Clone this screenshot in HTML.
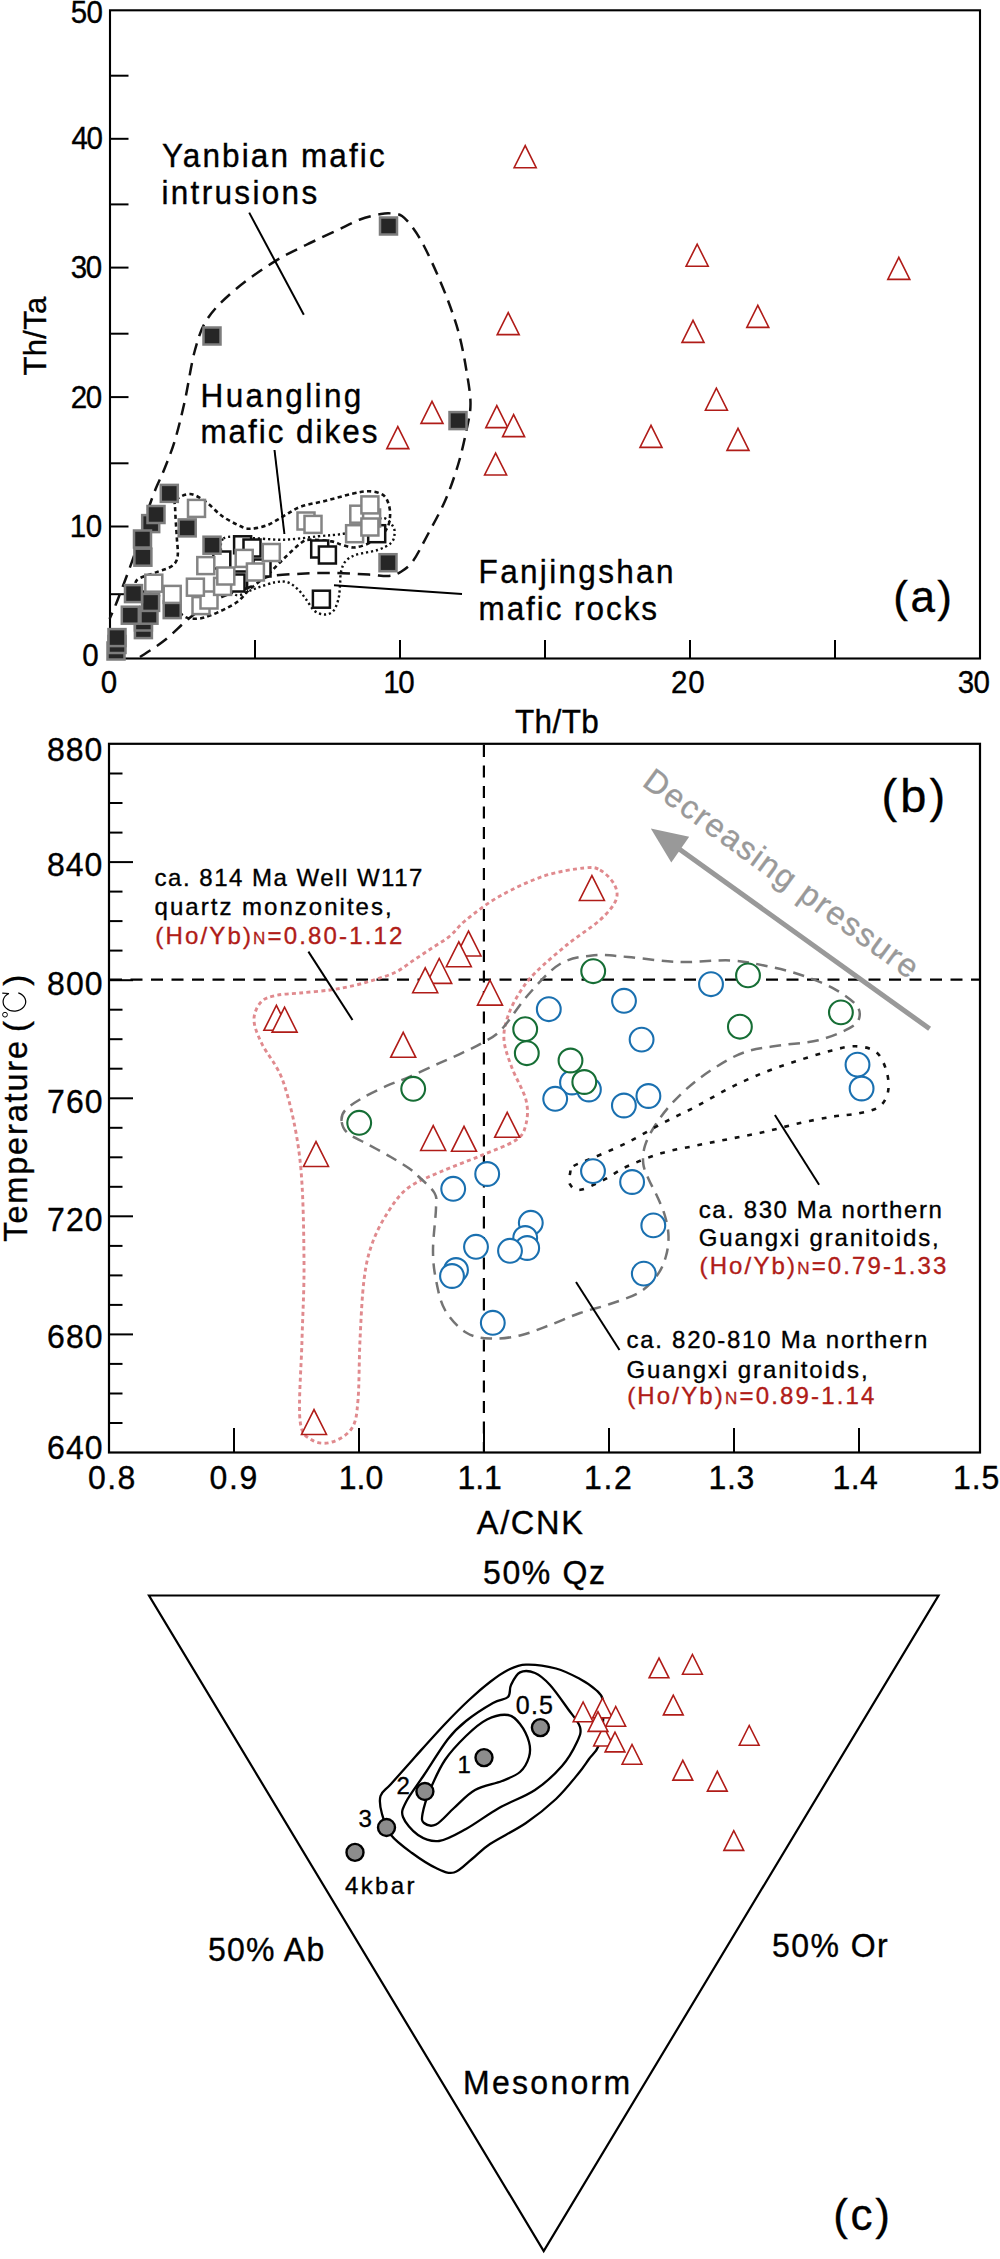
<!DOCTYPE html>
<html><head><meta charset="utf-8">
<style>
html,body{margin:0;padding:0;background:#fff;width:1000px;height:2259px;overflow:hidden}
svg{display:block}
text{font-family:"Liberation Sans", sans-serif;stroke-width:0.35px;paint-order:stroke}
</style></head><body>
<svg width="1000" height="2259" viewBox="0 0 1000 2259">
<rect width="1000" height="2259" fill="#fff"/>
<rect x="110" y="10.3" width="870" height="648.2" fill="none" stroke="#000" stroke-width="2.1"/>
<line x1="110" y1="75.7" x2="128.5" y2="75.7" stroke="#000" stroke-width="2"/>
<line x1="110" y1="138.8" x2="128.5" y2="138.8" stroke="#000" stroke-width="2"/>
<line x1="110" y1="204.4" x2="128.5" y2="204.4" stroke="#000" stroke-width="2"/>
<line x1="110" y1="267.6" x2="128.5" y2="267.6" stroke="#000" stroke-width="2"/>
<line x1="110" y1="333.7" x2="128.5" y2="333.7" stroke="#000" stroke-width="2"/>
<line x1="110" y1="397.1" x2="128.5" y2="397.1" stroke="#000" stroke-width="2"/>
<line x1="110" y1="463.3" x2="128.5" y2="463.3" stroke="#000" stroke-width="2"/>
<line x1="110" y1="526.5" x2="128.5" y2="526.5" stroke="#000" stroke-width="2"/>
<line x1="110" y1="594.2" x2="128.5" y2="594.2" stroke="#000" stroke-width="2"/>
<line x1="255.0" y1="658.5" x2="255.0" y2="640" stroke="#000" stroke-width="2"/>
<line x1="400.0" y1="658.5" x2="400.0" y2="640" stroke="#000" stroke-width="2"/>
<line x1="545.0" y1="658.5" x2="545.0" y2="640" stroke="#000" stroke-width="2"/>
<line x1="690.0" y1="658.5" x2="690.0" y2="640" stroke="#000" stroke-width="2"/>
<line x1="835.0" y1="658.5" x2="835.0" y2="640" stroke="#000" stroke-width="2"/>
<path d="M140.0,657.0 C144.2,654.2 156.3,646.8 165.0,640.0 C173.7,633.2 182.5,623.2 192.0,616.0 C201.5,608.8 212.3,601.8 222.0,597.0 C231.7,592.2 242.5,590.3 250.0,587.0 C257.5,583.7 258.5,579.2 267.0,577.0 C275.5,574.8 289.7,574.4 301.0,573.7 C312.3,573.0 323.7,572.8 335.0,572.9 C346.3,573.0 360.0,574.1 369.0,574.6 C378.0,575.1 383.7,576.5 389.0,576.0 C394.3,575.5 397.0,574.2 401.0,571.7 C405.0,569.2 408.7,567.0 413.0,561.0 C417.3,555.0 421.7,546.0 427.0,536.0 C432.3,526.0 439.8,512.8 445.0,501.0 C450.2,489.2 454.4,476.8 458.0,465.0 C461.6,453.2 464.4,440.3 466.5,430.0 C468.6,419.7 470.6,413.3 470.5,403.0 C470.4,392.7 467.9,379.5 466.0,368.0 C464.1,356.5 461.7,344.3 459.0,334.0 C456.3,323.7 453.5,315.7 450.0,306.0 C446.5,296.3 442.3,286.0 438.0,276.0 C433.7,266.0 428.2,254.0 424.0,246.0 C419.8,238.0 416.7,233.0 413.0,228.0 C409.3,223.0 405.5,218.4 402.0,216.0 C398.5,213.6 395.5,213.8 392.0,213.5 C388.5,213.2 386.3,213.0 381.0,214.0 C375.7,215.0 367.5,216.7 360.0,219.5 C352.5,222.3 345.0,226.6 336.0,230.8 C327.0,235.1 316.3,239.9 306.0,245.0 C295.7,250.1 286.1,254.3 274.4,261.6 C262.7,268.9 247.1,279.6 236.0,289.0 C224.9,298.4 214.8,307.8 208.0,318.0 C201.2,328.2 198.8,336.3 195.0,350.0 C191.2,363.7 188.3,385.0 185.0,400.0 C181.7,415.0 178.5,428.3 175.0,440.0 C171.5,451.7 167.2,462.0 164.0,470.0 C160.8,478.0 158.7,481.3 156.0,488.0 C153.3,494.7 150.4,502.5 148.0,510.0 C145.6,517.5 144.3,524.2 141.6,532.8 C138.9,541.4 136.0,550.4 132.0,561.6 C128.0,572.8 121.3,590.4 117.6,600.0 C113.9,609.6 110.9,615.8 109.6,619.0" fill="none" stroke="#111" stroke-width="2.5" stroke-dasharray="12.5 7.7"/>
<path d="M176.0,500.0 C178.5,497.3 185.0,493.7 190.0,494.0 C195.0,494.3 200.7,498.3 206.0,502.0 C211.3,505.7 216.3,512.0 222.0,516.0 C227.7,520.0 235.3,523.9 240.0,526.0 C244.7,528.1 245.5,528.8 250.0,528.7 C254.5,528.6 261.3,527.4 267.0,525.3 C272.7,523.2 278.3,519.0 284.0,515.9 C289.7,512.8 293.9,509.2 301.0,506.6 C308.1,504.1 318.0,502.7 326.5,500.6 C335.0,498.5 344.9,495.4 352.0,493.8 C359.1,492.2 363.9,491.2 369.0,491.3 C374.1,491.4 379.3,492.6 382.6,494.7 C385.9,496.8 387.4,500.3 388.6,504.0 C389.8,507.7 390.4,512.7 390.0,517.0 C389.6,521.3 388.9,525.9 386.0,530.0 C383.1,534.1 377.5,538.5 372.4,541.4 C367.3,544.3 360.5,546.8 355.4,547.4 C350.3,548.0 345.8,545.8 341.8,544.8 C337.8,543.8 337.0,542.2 331.6,541.4 C326.2,540.5 314.6,539.4 309.5,539.7 C304.4,540.0 305.2,539.9 301.0,543.0 C296.8,546.1 289.7,553.0 284.0,558.4 C278.3,563.8 272.7,570.3 267.0,575.4 C261.3,580.5 255.2,584.4 250.0,589.0 C244.8,593.6 242.3,598.5 236.0,602.8 C229.7,607.1 218.7,612.1 212.0,614.8 C205.3,617.5 200.8,618.7 196.0,618.8 C191.2,618.9 187.7,618.7 183.0,615.6 C178.3,612.5 175.2,604.3 168.0,600.0 C160.8,595.7 145.2,593.3 140.0,590.0 C134.8,586.7 134.3,582.9 137.0,580.0 C139.7,577.1 150.2,574.7 156.0,572.4 C161.8,570.1 168.4,568.7 172.0,566.0 C175.6,563.3 176.8,561.2 177.6,556.4 C178.4,551.6 177.2,544.9 176.8,537.2 C176.4,529.5 175.3,516.2 175.2,510.0 C175.1,503.8 173.5,502.7 176.0,500.0Z" fill="none" stroke="#111" stroke-width="2.6" stroke-dasharray="4.2 3.3"/>
<path d="M223.4,538.5 C228.1,534.8 239.9,537.8 250.0,538.0 C260.1,538.2 272.7,540.0 284.0,539.7 C295.3,539.4 308.1,537.3 318.0,536.3 C327.9,535.3 335.7,535.1 343.5,533.8 C351.3,532.4 358.5,530.6 365.0,528.0 C371.5,525.4 378.0,518.3 382.6,518.0 C387.2,517.7 390.8,523.2 392.8,526.0 C394.8,528.8 394.8,531.8 394.5,534.6 C394.2,537.4 393.8,540.4 391.0,543.0 C388.2,545.6 383.4,548.0 377.5,550.0 C371.6,552.0 360.8,553.0 355.4,555.0 C350.0,557.0 347.6,559.0 345.2,561.8 C342.8,564.6 341.9,568.0 341.0,572.0 C340.1,576.0 340.4,581.1 340.0,585.6 C339.6,590.1 339.5,595.0 338.4,599.2 C337.3,603.4 335.6,608.5 333.3,611.0 C331.0,613.5 327.9,614.5 324.8,614.5 C321.7,614.5 317.7,613.5 314.6,611.0 C311.5,608.5 308.8,602.9 306.0,599.2 C303.2,595.5 300.7,591.8 297.6,589.0 C294.5,586.2 291.1,583.3 287.4,582.2 C283.7,581.1 280.3,581.4 275.5,582.2 C270.7,583.1 262.8,585.9 258.5,587.3 C254.2,588.7 253.8,589.4 250.0,590.7 C246.2,592.0 240.2,596.8 236.0,595.0 C231.8,593.2 227.3,585.8 225.0,580.0 C222.7,574.2 222.3,566.9 222.0,560.0 C221.7,553.1 218.7,542.2 223.4,538.5Z" fill="none" stroke="#111" stroke-width="2.4" stroke-dasharray="2.2 2.8"/>
<line x1="249.2" y1="212.6" x2="303.8" y2="314.8" stroke="#000" stroke-width="2"/>
<line x1="274.5" y1="450" x2="284.4" y2="534" stroke="#000" stroke-width="2"/>
<line x1="334" y1="585.3" x2="462" y2="594" stroke="#000" stroke-width="2"/>
<rect x="380.0" y="217.5" width="17.0" height="17.0" fill="#262626" stroke="#7d7d7d" stroke-width="2.5"/>
<rect x="203.5" y="327.5" width="17.0" height="17.0" fill="#262626" stroke="#7d7d7d" stroke-width="2.5"/>
<rect x="449.5" y="412.1" width="17.0" height="17.0" fill="#262626" stroke="#7d7d7d" stroke-width="2.5"/>
<rect x="379.5" y="554.2" width="17.0" height="17.0" fill="#262626" stroke="#7d7d7d" stroke-width="2.5"/>
<rect x="160.8" y="484.9" width="17.0" height="17.0" fill="#262626" stroke="#7d7d7d" stroke-width="2.5"/>
<rect x="142.2" y="515.1" width="17.0" height="17.0" fill="#262626" stroke="#7d7d7d" stroke-width="2.5"/>
<rect x="147.5" y="506.0" width="17.0" height="17.0" fill="#262626" stroke="#7d7d7d" stroke-width="2.5"/>
<rect x="134.0" y="530.5" width="17.0" height="17.0" fill="#262626" stroke="#7d7d7d" stroke-width="2.5"/>
<rect x="134.4" y="548.7" width="17.0" height="17.0" fill="#262626" stroke="#7d7d7d" stroke-width="2.5"/>
<rect x="178.7" y="519.4" width="17.0" height="17.0" fill="#262626" stroke="#7d7d7d" stroke-width="2.5"/>
<rect x="134.9" y="621.1" width="17.0" height="17.0" fill="#262626" stroke="#7d7d7d" stroke-width="2.5"/>
<rect x="134.9" y="613.5" width="17.0" height="17.0" fill="#262626" stroke="#7d7d7d" stroke-width="2.5"/>
<rect x="140.5" y="606.7" width="17.0" height="17.0" fill="#262626" stroke="#7d7d7d" stroke-width="2.5"/>
<rect x="142.1" y="593.9" width="17.0" height="17.0" fill="#262626" stroke="#7d7d7d" stroke-width="2.5"/>
<rect x="125.0" y="585.1" width="17.0" height="17.0" fill="#262626" stroke="#7d7d7d" stroke-width="2.5"/>
<rect x="121.8" y="606.7" width="17.0" height="17.0" fill="#262626" stroke="#7d7d7d" stroke-width="2.5"/>
<rect x="163.7" y="601.1" width="17.0" height="17.0" fill="#262626" stroke="#7d7d7d" stroke-width="2.5"/>
<rect x="107.5" y="642.5" width="17.0" height="17.0" fill="#262626" stroke="#7d7d7d" stroke-width="2.5"/>
<rect x="108.5" y="636.0" width="17.0" height="17.0" fill="#262626" stroke="#7d7d7d" stroke-width="2.5"/>
<rect x="108.5" y="629.1" width="17.0" height="17.0" fill="#262626" stroke="#7d7d7d" stroke-width="2.5"/>
<rect x="188.0" y="499.9" width="17.0" height="17.0" fill="#fff" stroke="#848484" stroke-width="2.5"/>
<rect x="145.3" y="574.7" width="17.0" height="17.0" fill="#fff" stroke="#848484" stroke-width="2.5"/>
<rect x="163.7" y="585.9" width="17.0" height="17.0" fill="#fff" stroke="#848484" stroke-width="2.5"/>
<rect x="234.1" y="536.3" width="17.0" height="17.0" fill="#fff" stroke="#111" stroke-width="2.5"/>
<rect x="243.5" y="539.5" width="17.0" height="17.0" fill="#fff" stroke="#111" stroke-width="2.5"/>
<rect x="213.3" y="551.5" width="17.0" height="17.0" fill="#fff" stroke="#111" stroke-width="2.5"/>
<rect x="230.1" y="571.5" width="17.0" height="17.0" fill="#fff" stroke="#111" stroke-width="2.5"/>
<rect x="253.5" y="559.5" width="17.0" height="17.0" fill="#fff" stroke="#111" stroke-width="2.5"/>
<rect x="227.5" y="574.5" width="17.0" height="17.0" fill="#fff" stroke="#111" stroke-width="2.5"/>
<rect x="311.2" y="540.5" width="17.0" height="17.0" fill="#fff" stroke="#111" stroke-width="2.5"/>
<rect x="318.9" y="546.5" width="17.0" height="17.0" fill="#fff" stroke="#111" stroke-width="2.5"/>
<rect x="368.2" y="525.2" width="17.0" height="17.0" fill="#fff" stroke="#111" stroke-width="2.5"/>
<rect x="312.9" y="590.7" width="17.0" height="17.0" fill="#fff" stroke="#111" stroke-width="2.5"/>
<rect x="203.5" y="536.7" width="17.0" height="17.0" fill="#262626" stroke="#7d7d7d" stroke-width="2.5"/>
<rect x="192.5" y="597.1" width="17.0" height="17.0" fill="#fff" stroke="#848484" stroke-width="2.5"/>
<rect x="200.5" y="591.5" width="17.0" height="17.0" fill="#fff" stroke="#848484" stroke-width="2.5"/>
<rect x="186.9" y="578.7" width="17.0" height="17.0" fill="#fff" stroke="#848484" stroke-width="2.5"/>
<rect x="197.3" y="557.1" width="17.0" height="17.0" fill="#fff" stroke="#848484" stroke-width="2.5"/>
<rect x="214.1" y="577.9" width="17.0" height="17.0" fill="#fff" stroke="#848484" stroke-width="2.5"/>
<rect x="217.3" y="567.5" width="17.0" height="17.0" fill="#fff" stroke="#848484" stroke-width="2.5"/>
<rect x="235.7" y="549.9" width="17.0" height="17.0" fill="#fff" stroke="#848484" stroke-width="2.5"/>
<rect x="246.9" y="563.5" width="17.0" height="17.0" fill="#fff" stroke="#848484" stroke-width="2.5"/>
<rect x="262.8" y="544.0" width="17.0" height="17.0" fill="#fff" stroke="#848484" stroke-width="2.5"/>
<rect x="297.5" y="512.5" width="17.0" height="17.0" fill="#fff" stroke="#848484" stroke-width="2.5"/>
<rect x="304.5" y="515.9" width="17.0" height="17.0" fill="#fff" stroke="#848484" stroke-width="2.5"/>
<rect x="350.3" y="505.7" width="17.0" height="17.0" fill="#fff" stroke="#848484" stroke-width="2.5"/>
<rect x="346.1" y="525.2" width="17.0" height="17.0" fill="#fff" stroke="#848484" stroke-width="2.5"/>
<rect x="363.1" y="509.5" width="17.0" height="17.0" fill="#fff" stroke="#848484" stroke-width="2.5"/>
<rect x="361.4" y="518.5" width="17.0" height="17.0" fill="#fff" stroke="#848484" stroke-width="2.5"/>
<rect x="361.4" y="496.4" width="17.0" height="17.0" fill="#fff" stroke="#848484" stroke-width="2.5"/>
<path d="M525.2,145.6 L514.1,167.7 L536.2,167.7 Z" fill="#fff" stroke="#b01c18" stroke-width="1.6" stroke-linejoin="miter"/>
<path d="M697.2,244.2 L686.1,266.2 L708.2,266.2 Z" fill="#fff" stroke="#b01c18" stroke-width="1.6" stroke-linejoin="miter"/>
<path d="M898.8,257.4 L887.8,279.4 L909.8,279.4 Z" fill="#fff" stroke="#b01c18" stroke-width="1.6" stroke-linejoin="miter"/>
<path d="M508.2,312.6 L497.2,334.6 L519.2,334.6 Z" fill="#fff" stroke="#b01c18" stroke-width="1.6" stroke-linejoin="miter"/>
<path d="M693.0,320.4 L682.0,342.4 L704.0,342.4 Z" fill="#fff" stroke="#b01c18" stroke-width="1.6" stroke-linejoin="miter"/>
<path d="M757.8,305.4 L746.8,327.4 L768.8,327.4 Z" fill="#fff" stroke="#b01c18" stroke-width="1.6" stroke-linejoin="miter"/>
<path d="M716.4,388.2 L705.4,410.2 L727.4,410.2 Z" fill="#fff" stroke="#b01c18" stroke-width="1.6" stroke-linejoin="miter"/>
<path d="M651.0,425.4 L640.0,447.4 L662.0,447.4 Z" fill="#fff" stroke="#b01c18" stroke-width="1.6" stroke-linejoin="miter"/>
<path d="M738.0,428.4 L727.0,450.4 L749.0,450.4 Z" fill="#fff" stroke="#b01c18" stroke-width="1.6" stroke-linejoin="miter"/>
<path d="M432.0,401.4 L421.0,423.4 L443.0,423.4 Z" fill="#fff" stroke="#b01c18" stroke-width="1.6" stroke-linejoin="miter"/>
<path d="M397.8,426.6 L386.8,448.6 L408.8,448.6 Z" fill="#fff" stroke="#b01c18" stroke-width="1.6" stroke-linejoin="miter"/>
<path d="M496.8,405.6 L485.8,427.6 L507.8,427.6 Z" fill="#fff" stroke="#b01c18" stroke-width="1.6" stroke-linejoin="miter"/>
<path d="M513.6,414.6 L502.6,436.6 L524.6,436.6 Z" fill="#fff" stroke="#b01c18" stroke-width="1.6" stroke-linejoin="miter"/>
<path d="M495.6,453.1 L484.6,475.0 L506.6,475.0 Z" fill="#fff" stroke="#b01c18" stroke-width="1.6" stroke-linejoin="miter"/>
<rect x="109" y="743.8" width="871" height="708.7" fill="none" stroke="#000" stroke-width="2.2"/>
<line x1="109" y1="1423.0" x2="122.5" y2="1423.0" stroke="#000" stroke-width="2"/>
<line x1="109" y1="1393.5" x2="122.5" y2="1393.5" stroke="#000" stroke-width="2"/>
<line x1="109" y1="1363.9" x2="122.5" y2="1363.9" stroke="#000" stroke-width="2"/>
<line x1="109" y1="1334.4" x2="133.0" y2="1334.4" stroke="#000" stroke-width="2"/>
<line x1="109" y1="1304.9" x2="122.5" y2="1304.9" stroke="#000" stroke-width="2"/>
<line x1="109" y1="1275.4" x2="122.5" y2="1275.4" stroke="#000" stroke-width="2"/>
<line x1="109" y1="1245.9" x2="122.5" y2="1245.9" stroke="#000" stroke-width="2"/>
<line x1="109" y1="1216.3" x2="133.0" y2="1216.3" stroke="#000" stroke-width="2"/>
<line x1="109" y1="1186.8" x2="122.5" y2="1186.8" stroke="#000" stroke-width="2"/>
<line x1="109" y1="1157.3" x2="122.5" y2="1157.3" stroke="#000" stroke-width="2"/>
<line x1="109" y1="1127.8" x2="122.5" y2="1127.8" stroke="#000" stroke-width="2"/>
<line x1="109" y1="1098.3" x2="133.0" y2="1098.3" stroke="#000" stroke-width="2"/>
<line x1="109" y1="1068.7" x2="122.5" y2="1068.7" stroke="#000" stroke-width="2"/>
<line x1="109" y1="1039.2" x2="122.5" y2="1039.2" stroke="#000" stroke-width="2"/>
<line x1="109" y1="1009.7" x2="122.5" y2="1009.7" stroke="#000" stroke-width="2"/>
<line x1="109" y1="980.2" x2="133.0" y2="980.2" stroke="#000" stroke-width="2"/>
<line x1="109" y1="950.6" x2="122.5" y2="950.6" stroke="#000" stroke-width="2"/>
<line x1="109" y1="921.1" x2="122.5" y2="921.1" stroke="#000" stroke-width="2"/>
<line x1="109" y1="891.6" x2="122.5" y2="891.6" stroke="#000" stroke-width="2"/>
<line x1="109" y1="862.1" x2="133.0" y2="862.1" stroke="#000" stroke-width="2"/>
<line x1="109" y1="832.6" x2="122.5" y2="832.6" stroke="#000" stroke-width="2"/>
<line x1="109" y1="803.0" x2="122.5" y2="803.0" stroke="#000" stroke-width="2"/>
<line x1="109" y1="773.5" x2="122.5" y2="773.5" stroke="#000" stroke-width="2"/>
<line x1="234.0" y1="1452.5" x2="234.0" y2="1428" stroke="#000" stroke-width="2"/>
<line x1="359.0" y1="1452.5" x2="359.0" y2="1428" stroke="#000" stroke-width="2"/>
<line x1="484.0" y1="1452.5" x2="484.0" y2="1428" stroke="#000" stroke-width="2"/>
<line x1="609.0" y1="1452.5" x2="609.0" y2="1428" stroke="#000" stroke-width="2"/>
<line x1="734.0" y1="1452.5" x2="734.0" y2="1428" stroke="#000" stroke-width="2"/>
<line x1="859.0" y1="1452.5" x2="859.0" y2="1428" stroke="#000" stroke-width="2"/>
<line x1="110" y1="979.6" x2="979" y2="979.6" stroke="#000" stroke-width="2.2" stroke-dasharray="12 8.5"/>
<line x1="483.9" y1="745" x2="483.9" y2="1451.5" stroke="#000" stroke-width="2.2" stroke-dasharray="12 8.5"/>
<path d="M600.0,870.0 C605.0,872.7 611.3,879.0 614.0,884.0 C616.7,889.0 618.3,894.0 616.0,900.0 C613.7,906.0 608.0,912.7 600.0,920.0 C592.0,927.3 578.7,935.3 568.0,944.0 C557.3,952.7 544.0,964.0 536.0,972.0 C528.0,980.0 524.7,984.7 520.0,992.0 C515.3,999.3 510.7,1008.0 508.0,1016.0 C505.3,1024.0 503.3,1031.3 504.0,1040.0 C504.7,1048.7 508.3,1058.0 512.0,1068.0 C515.7,1078.0 523.7,1090.7 526.0,1100.0 C528.3,1109.3 527.7,1117.3 526.0,1124.0 C524.3,1130.7 523.7,1134.7 516.0,1140.0 C508.3,1145.3 492.7,1150.7 480.0,1156.0 C467.3,1161.3 452.0,1166.7 440.0,1172.0 C428.0,1177.3 416.7,1181.3 408.0,1188.0 C399.3,1194.7 394.0,1202.7 388.0,1212.0 C382.0,1221.3 376.0,1232.7 372.0,1244.0 C368.0,1255.3 366.0,1264.0 364.0,1280.0 C362.0,1296.0 361.0,1320.0 360.0,1340.0 C359.0,1360.0 359.3,1385.3 358.0,1400.0 C356.7,1414.7 356.3,1421.0 352.0,1428.0 C347.7,1435.0 338.7,1440.0 332.0,1442.0 C325.3,1444.0 317.3,1443.7 312.0,1440.0 C306.7,1436.3 301.7,1436.7 300.0,1420.0 C298.3,1403.3 301.3,1366.7 302.0,1340.0 C302.7,1313.3 304.3,1290.0 304.0,1260.0 C303.7,1230.0 303.3,1189.3 300.0,1160.0 C296.7,1130.7 290.3,1103.3 284.0,1084.0 C277.7,1064.7 267.0,1054.7 262.0,1044.0 C257.0,1033.3 254.2,1027.0 254.0,1020.0 C253.8,1013.0 257.3,1006.1 261.0,1002.0 C264.7,997.9 269.5,996.9 276.0,995.4 C282.5,993.9 291.0,993.9 300.0,993.0 C309.0,992.1 321.0,991.2 330.0,990.0 C339.0,988.8 346.5,987.2 354.0,985.5 C361.5,983.8 368.0,981.8 375.0,979.5 C382.0,977.2 389.5,975.2 396.0,972.0 C402.5,968.8 408.0,964.0 414.0,960.0 C420.0,956.0 426.0,952.0 432.0,948.0 C438.0,944.0 444.3,940.7 450.0,936.0 C455.7,931.3 457.7,926.7 466.0,920.0 C474.3,913.3 487.0,903.3 500.0,896.0 C513.0,888.7 530.0,880.7 544.0,876.0 C558.0,871.3 574.7,869.0 584.0,868.0 C593.3,867.0 595.0,867.3 600.0,870.0Z" fill="none" stroke="#e08a8e" stroke-width="2.9" stroke-dasharray="4 3.3"/>
<path d="M341.6,1121.0 C341.2,1117.2 341.8,1114.0 345.2,1110.2 C348.6,1106.4 355.2,1102.2 362.0,1098.2 C368.8,1094.2 378.0,1089.8 386.0,1086.2 C394.0,1082.6 401.2,1080.4 410.0,1076.6 C418.8,1072.8 430.0,1067.4 438.8,1063.4 C447.6,1059.4 455.6,1056.0 462.8,1052.6 C470.0,1049.2 475.6,1046.8 482.0,1043.0 C488.4,1039.2 493.5,1037.8 501.2,1029.8 C508.9,1021.8 518.2,1006.0 528.0,995.0 C537.8,984.0 549.0,970.6 560.0,964.0 C571.0,957.4 582.7,956.5 594.0,955.3 C605.3,954.1 613.8,955.9 628.0,957.0 C642.2,958.1 662.0,961.4 679.0,962.0 C696.0,962.6 715.8,959.8 730.0,960.4 C744.2,961.0 752.7,963.2 764.0,965.5 C775.3,967.8 786.7,970.3 798.0,974.0 C809.3,977.7 822.4,982.5 832.0,987.6 C841.6,992.7 851.3,999.5 855.8,1004.6 C860.3,1009.7 860.3,1014.2 859.2,1018.2 C858.1,1022.2 855.8,1024.7 849.0,1028.4 C842.2,1032.1 829.7,1037.4 818.4,1040.2 C807.1,1043.0 792.3,1043.6 781.0,1045.3 C769.7,1047.0 759.5,1047.9 750.4,1050.4 C741.3,1053.0 735.7,1055.5 726.6,1060.6 C717.5,1065.7 705.1,1073.9 696.0,1081.0 C686.9,1088.1 679.0,1095.7 672.2,1103.1 C665.4,1110.5 659.7,1118.1 655.2,1125.2 C650.7,1132.3 647.0,1139.1 645.0,1145.6 C643.0,1152.1 642.6,1158.3 643.3,1164.0 C644.0,1169.7 646.7,1174.7 649.0,1180.0 C651.3,1185.3 654.3,1190.0 657.0,1196.0 C659.7,1202.0 663.1,1209.3 665.0,1216.0 C666.9,1222.7 668.3,1229.3 668.5,1236.0 C668.7,1242.7 667.8,1249.7 666.0,1256.0 C664.2,1262.3 662.3,1268.0 658.0,1274.0 C653.7,1280.0 648.0,1287.0 640.0,1292.0 C632.0,1297.0 620.0,1300.5 610.0,1304.0 C600.0,1307.5 590.0,1309.5 580.0,1313.0 C570.0,1316.5 560.0,1321.2 550.0,1325.0 C540.0,1328.8 530.0,1333.2 520.0,1335.5 C510.0,1337.8 499.0,1339.0 490.0,1338.5 C481.0,1338.0 473.5,1337.2 466.0,1332.5 C458.5,1327.8 450.0,1318.8 445.0,1310.0 C440.0,1301.2 438.0,1290.0 436.0,1280.0 C434.0,1270.0 433.0,1262.0 433.0,1250.0 C433.0,1238.0 435.8,1217.5 436.0,1208.0 C436.2,1198.5 437.5,1198.3 434.5,1193.0 C431.5,1187.7 422.1,1180.0 418.0,1176.0 C413.9,1172.0 414.5,1172.2 410.0,1169.0 C405.5,1165.8 397.6,1161.0 390.8,1157.0 C384.0,1153.0 376.4,1149.0 369.2,1145.0 C362.0,1141.0 352.2,1137.0 347.6,1133.0 C343.0,1129.0 342.0,1124.8 341.6,1121.0Z" fill="none" stroke="#747474" stroke-width="2.5" stroke-dasharray="11.5 7.5"/>
<path d="M573.6,1166.0 C577.6,1163.5 584.9,1161.5 594.0,1157.5 C603.1,1153.5 616.7,1147.9 628.0,1142.2 C639.3,1136.5 650.7,1129.5 662.0,1123.5 C673.3,1117.5 684.7,1112.5 696.0,1106.5 C707.3,1100.5 718.7,1093.5 730.0,1087.8 C741.3,1082.1 752.7,1077.0 764.0,1072.5 C775.3,1068.0 786.7,1064.3 798.0,1060.6 C809.3,1056.9 822.4,1052.8 832.0,1050.4 C841.6,1048.0 848.4,1046.0 855.8,1046.3 C863.2,1046.6 871.1,1048.0 876.2,1052.1 C881.3,1056.2 884.4,1064.3 886.4,1070.8 C888.4,1077.3 889.2,1085.2 888.1,1091.2 C887.0,1097.2 884.4,1102.8 879.6,1106.5 C874.8,1110.2 867.1,1111.6 859.2,1113.3 C851.3,1115.0 842.2,1115.0 832.0,1116.7 C821.8,1118.4 809.3,1121.0 798.0,1123.5 C786.7,1126.0 775.3,1129.5 764.0,1132.0 C752.7,1134.5 741.3,1136.5 730.0,1138.8 C718.7,1141.1 707.3,1143.2 696.0,1145.6 C684.7,1148.0 673.3,1149.6 662.0,1153.0 C650.7,1156.4 637.6,1161.6 628.0,1166.0 C618.4,1170.4 612.1,1175.6 604.2,1179.6 C596.3,1183.6 586.1,1188.9 580.4,1189.8 C574.7,1190.7 571.9,1187.5 570.2,1184.7 C568.5,1181.9 569.6,1175.9 570.2,1172.8 C570.8,1169.7 569.6,1168.5 573.6,1166.0Z" fill="none" stroke="#111" stroke-width="2.6" stroke-dasharray="4.8 7.9"/>
<line x1="308.4" y1="951.6" x2="352.5" y2="1020" stroke="#000" stroke-width="2"/>
<line x1="774.9" y1="1115" x2="819.1" y2="1184.7" stroke="#000" stroke-width="2"/>
<line x1="576" y1="1282" x2="619.5" y2="1350" stroke="#000" stroke-width="2"/>
<line x1="929.6" y1="1028.8" x2="675" y2="846" stroke="#999" stroke-width="5"/>
<path d="M650.8,828.5 L689.2,836.8 L671.3,862.4 Z" fill="#999"/>
<path d="M591.9,875.6 L579.4,900.5 L604.4,900.5 Z" fill="#fff" stroke="#b01c18" stroke-width="1.6" stroke-linejoin="miter"/>
<path d="M468.5,931.1 L456.0,956.0 L481.0,956.0 Z" fill="#fff" stroke="#b01c18" stroke-width="1.6" stroke-linejoin="miter"/>
<path d="M458.8,941.8 L446.3,966.7 L471.3,966.7 Z" fill="#fff" stroke="#b01c18" stroke-width="1.6" stroke-linejoin="miter"/>
<path d="M439.2,958.5 L426.7,983.4 L451.7,983.4 Z" fill="#fff" stroke="#b01c18" stroke-width="1.6" stroke-linejoin="miter"/>
<path d="M425.2,967.8 L412.7,992.7 L437.7,992.7 Z" fill="#fff" stroke="#b01c18" stroke-width="1.6" stroke-linejoin="miter"/>
<path d="M490.0,980.2 L477.5,1005.1 L502.5,1005.1 Z" fill="#fff" stroke="#b01c18" stroke-width="1.6" stroke-linejoin="miter"/>
<path d="M276.4,1005.4 L263.9,1030.3 L288.9,1030.3 Z" fill="#fff" stroke="#b01c18" stroke-width="1.6" stroke-linejoin="miter"/>
<path d="M284.6,1007.2 L272.1,1032.1 L297.1,1032.1 Z" fill="#fff" stroke="#b01c18" stroke-width="1.6" stroke-linejoin="miter"/>
<path d="M403.2,1032.4 L390.7,1057.3 L415.7,1057.3 Z" fill="#fff" stroke="#b01c18" stroke-width="1.6" stroke-linejoin="miter"/>
<path d="M316.0,1141.6 L303.5,1166.5 L328.5,1166.5 Z" fill="#fff" stroke="#b01c18" stroke-width="1.6" stroke-linejoin="miter"/>
<path d="M433.2,1125.6 L420.7,1150.5 L445.7,1150.5 Z" fill="#fff" stroke="#b01c18" stroke-width="1.6" stroke-linejoin="miter"/>
<path d="M464.0,1126.4 L451.5,1151.3 L476.5,1151.3 Z" fill="#fff" stroke="#b01c18" stroke-width="1.6" stroke-linejoin="miter"/>
<path d="M507.2,1112.4 L494.7,1137.3 L519.7,1137.3 Z" fill="#fff" stroke="#b01c18" stroke-width="1.6" stroke-linejoin="miter"/>
<path d="M314.0,1409.6 L301.5,1434.5 L326.5,1434.5 Z" fill="#fff" stroke="#b01c18" stroke-width="1.6" stroke-linejoin="miter"/>
<circle cx="711.0" cy="984.2" r="11.9" fill="#fff" stroke="#1a70b0" stroke-width="2.1"/>
<circle cx="548.8" cy="1009.2" r="11.9" fill="#fff" stroke="#1a70b0" stroke-width="2.1"/>
<circle cx="624.0" cy="1000.8" r="11.9" fill="#fff" stroke="#1a70b0" stroke-width="2.1"/>
<circle cx="641.6" cy="1039.6" r="11.9" fill="#fff" stroke="#1a70b0" stroke-width="2.1"/>
<circle cx="572.0" cy="1082.5" r="11.9" fill="#fff" stroke="#1a70b0" stroke-width="2.1"/>
<circle cx="588.9" cy="1089.5" r="11.9" fill="#fff" stroke="#1a70b0" stroke-width="2.1"/>
<circle cx="555.2" cy="1098.8" r="11.9" fill="#fff" stroke="#1a70b0" stroke-width="2.1"/>
<circle cx="623.9" cy="1105.5" r="11.9" fill="#fff" stroke="#1a70b0" stroke-width="2.1"/>
<circle cx="648.4" cy="1096.0" r="11.9" fill="#fff" stroke="#1a70b0" stroke-width="2.1"/>
<circle cx="857.5" cy="1064.7" r="11.9" fill="#fff" stroke="#1a70b0" stroke-width="2.1"/>
<circle cx="861.6" cy="1088.5" r="11.9" fill="#fff" stroke="#1a70b0" stroke-width="2.1"/>
<circle cx="593.0" cy="1171.1" r="11.9" fill="#fff" stroke="#1a70b0" stroke-width="2.1"/>
<circle cx="632.1" cy="1182.0" r="11.9" fill="#fff" stroke="#1a70b0" stroke-width="2.1"/>
<circle cx="487.2" cy="1174.0" r="11.9" fill="#fff" stroke="#1a70b0" stroke-width="2.1"/>
<circle cx="453.2" cy="1188.8" r="11.9" fill="#fff" stroke="#1a70b0" stroke-width="2.1"/>
<circle cx="530.8" cy="1222.8" r="11.9" fill="#fff" stroke="#1a70b0" stroke-width="2.1"/>
<circle cx="525.2" cy="1238.0" r="11.9" fill="#fff" stroke="#1a70b0" stroke-width="2.1"/>
<circle cx="527.2" cy="1248.0" r="11.9" fill="#fff" stroke="#1a70b0" stroke-width="2.1"/>
<circle cx="510.0" cy="1250.8" r="11.9" fill="#fff" stroke="#1a70b0" stroke-width="2.1"/>
<circle cx="476.0" cy="1246.8" r="11.9" fill="#fff" stroke="#1a70b0" stroke-width="2.1"/>
<circle cx="456.0" cy="1270.0" r="11.9" fill="#fff" stroke="#1a70b0" stroke-width="2.1"/>
<circle cx="452.0" cy="1276.0" r="11.9" fill="#fff" stroke="#1a70b0" stroke-width="2.1"/>
<circle cx="492.8" cy="1322.8" r="11.9" fill="#fff" stroke="#1a70b0" stroke-width="2.1"/>
<circle cx="653.3" cy="1225.4" r="11.9" fill="#fff" stroke="#1a70b0" stroke-width="2.1"/>
<circle cx="643.8" cy="1273.6" r="11.9" fill="#fff" stroke="#1a70b0" stroke-width="2.1"/>
<circle cx="593.2" cy="971.2" r="11.9" fill="#fff" stroke="#166e35" stroke-width="2.1"/>
<circle cx="748.0" cy="975.4" r="11.9" fill="#fff" stroke="#166e35" stroke-width="2.1"/>
<circle cx="840.9" cy="1012.4" r="11.9" fill="#fff" stroke="#166e35" stroke-width="2.1"/>
<circle cx="739.9" cy="1026.7" r="11.9" fill="#fff" stroke="#166e35" stroke-width="2.1"/>
<circle cx="525.2" cy="1029.2" r="11.9" fill="#fff" stroke="#166e35" stroke-width="2.1"/>
<circle cx="526.8" cy="1053.2" r="11.9" fill="#fff" stroke="#166e35" stroke-width="2.1"/>
<circle cx="570.5" cy="1060.5" r="11.9" fill="#fff" stroke="#166e35" stroke-width="2.1"/>
<circle cx="584.3" cy="1082.0" r="11.9" fill="#fff" stroke="#166e35" stroke-width="2.1"/>
<circle cx="413.2" cy="1088.8" r="11.9" fill="#fff" stroke="#166e35" stroke-width="2.1"/>
<circle cx="359.2" cy="1122.8" r="11.9" fill="#fff" stroke="#166e35" stroke-width="2.1"/>
<path d="M2.3,993.2 L8.9,993.5 A11.3,9.4 0 1,0 18.3,992.9" fill="none" stroke="#000" stroke-width="1.2"/>
<circle cx="5.0" cy="1014.7" r="2.4" fill="none" stroke="#000" stroke-width="1"/>
<path d="M149,1595.5 L938.5,1595.5 L543.7,2251 Z" fill="none" stroke="#000" stroke-width="2.2" stroke-linejoin="miter"/>
<path d="M526.0,1664.6 C534.0,1664.3 547.0,1666.1 556.0,1668.5 C565.0,1670.9 573.3,1675.4 580.0,1679.0 C586.7,1682.6 592.2,1686.5 596.0,1690.0 C599.8,1693.5 601.8,1694.7 603.0,1700.0 C604.2,1705.3 603.8,1714.3 603.0,1722.0 C602.2,1729.7 600.8,1739.8 598.5,1746.0 C596.2,1752.2 592.4,1754.3 589.0,1759.0 C585.6,1763.7 583.5,1767.3 578.0,1774.0 C572.5,1780.7 564.7,1790.8 556.0,1799.0 C547.3,1807.2 537.0,1815.5 526.0,1823.0 C515.0,1830.5 499.0,1838.0 490.0,1844.0 C481.0,1850.0 478.0,1854.2 472.0,1859.0 C466.0,1863.8 460.0,1871.0 454.0,1872.5 C448.0,1874.0 443.0,1871.2 436.0,1868.0 C429.0,1864.8 419.5,1858.5 412.0,1853.0 C404.5,1847.5 396.0,1841.5 391.0,1835.0 C386.0,1828.5 383.8,1820.5 382.0,1814.0 C380.2,1807.5 379.0,1801.0 380.5,1796.0 C382.0,1791.0 385.2,1790.5 391.0,1784.0 C396.8,1777.5 406.0,1767.0 415.0,1757.0 C424.0,1747.0 436.0,1733.5 445.0,1724.0 C454.0,1714.5 461.5,1707.0 469.0,1700.0 C476.5,1693.0 483.5,1687.0 490.0,1682.0 C496.5,1677.0 502.0,1672.9 508.0,1670.0 C514.0,1667.1 518.0,1664.8 526.0,1664.6Z" fill="none" stroke="#000" stroke-width="2.3"/>
<path d="M520.0,1672.4 C524.0,1670.4 530.0,1670.9 535.0,1673.0 C540.0,1675.1 544.5,1679.0 550.0,1685.0 C555.5,1691.0 563.0,1702.0 568.0,1709.0 C573.0,1716.0 578.5,1721.5 580.0,1727.0 C581.5,1732.5 580.0,1735.5 577.0,1742.0 C574.0,1748.5 569.0,1758.0 562.0,1766.0 C555.0,1774.0 545.5,1783.0 535.0,1790.0 C524.5,1797.0 510.5,1801.5 499.0,1808.0 C487.5,1814.5 476.0,1823.5 466.0,1829.0 C456.0,1834.5 447.0,1840.0 439.0,1841.0 C431.0,1842.0 424.0,1839.0 418.0,1835.0 C412.0,1831.0 405.0,1822.5 403.0,1817.0 C401.0,1811.5 402.5,1809.0 406.0,1802.0 C409.5,1795.0 417.0,1785.5 424.0,1775.0 C431.0,1764.5 441.0,1748.0 448.0,1739.0 C455.0,1730.0 458.5,1727.0 466.0,1721.0 C473.5,1715.0 486.0,1707.0 493.0,1703.0 C500.0,1699.0 505.0,1700.0 508.0,1697.0 C511.0,1694.0 509.0,1689.1 511.0,1685.0 C513.0,1680.9 516.0,1674.4 520.0,1672.4Z" fill="none" stroke="#000" stroke-width="2.3"/>
<path d="M508.0,1715.0 C513.5,1715.8 516.5,1719.5 520.0,1724.0 C523.5,1728.5 527.5,1736.5 529.0,1742.0 C530.5,1747.5 530.5,1752.0 529.0,1757.0 C527.5,1762.0 524.5,1768.0 520.0,1772.0 C515.5,1776.0 509.5,1778.0 502.0,1781.0 C494.5,1784.0 483.0,1785.5 475.0,1790.0 C467.0,1794.5 460.5,1802.2 454.0,1808.0 C447.5,1813.8 441.0,1822.0 436.0,1824.5 C431.0,1827.0 426.2,1824.8 424.0,1823.0 C421.8,1821.2 421.5,1819.5 422.5,1814.0 C423.5,1808.5 426.2,1799.0 430.0,1790.0 C433.8,1781.0 439.0,1769.0 445.0,1760.0 C451.0,1751.0 459.0,1742.8 466.0,1736.0 C473.0,1729.2 480.0,1723.0 487.0,1719.5 C494.0,1716.0 502.5,1714.2 508.0,1715.0Z" fill="none" stroke="#000" stroke-width="2.3"/>
<circle cx="540.4" cy="1727.6" r="8.5" fill="#8c8c8c" stroke="#000" stroke-width="2.4"/>
<circle cx="484.0" cy="1757.6" r="8.5" fill="#8c8c8c" stroke="#000" stroke-width="2.4"/>
<circle cx="424.9" cy="1791.5" r="8.5" fill="#8c8c8c" stroke="#000" stroke-width="2.4"/>
<circle cx="386.5" cy="1827.5" r="8.5" fill="#8c8c8c" stroke="#000" stroke-width="2.4"/>
<circle cx="355.0" cy="1852.4" r="8.5" fill="#8c8c8c" stroke="#000" stroke-width="2.4"/>
<path d="M659.0,1658.1 L649.1,1677.8 L668.9,1677.8 Z" fill="#fff" stroke="#b01c18" stroke-width="1.6" stroke-linejoin="miter"/>
<path d="M692.4,1654.5 L682.5,1674.2 L702.3,1674.2 Z" fill="#fff" stroke="#b01c18" stroke-width="1.6" stroke-linejoin="miter"/>
<path d="M673.3,1695.2 L663.4,1714.9 L683.2,1714.9 Z" fill="#fff" stroke="#b01c18" stroke-width="1.6" stroke-linejoin="miter"/>
<path d="M749.2,1725.5 L739.3,1745.2 L759.1,1745.2 Z" fill="#fff" stroke="#b01c18" stroke-width="1.6" stroke-linejoin="miter"/>
<path d="M682.8,1760.4 L672.9,1780.1 L692.7,1780.1 Z" fill="#fff" stroke="#b01c18" stroke-width="1.6" stroke-linejoin="miter"/>
<path d="M717.3,1771.4 L707.4,1791.1 L727.2,1791.1 Z" fill="#fff" stroke="#b01c18" stroke-width="1.6" stroke-linejoin="miter"/>
<path d="M733.8,1830.7 L723.9,1850.4 L743.7,1850.4 Z" fill="#fff" stroke="#b01c18" stroke-width="1.6" stroke-linejoin="miter"/>
<path d="M602.5,1698.2 L592.6,1717.9 L612.4,1717.9 Z" fill="#fff" stroke="#b01c18" stroke-width="1.6" stroke-linejoin="miter"/>
<path d="M583.1,1702.0 L573.2,1721.7 L593.0,1721.7 Z" fill="#fff" stroke="#b01c18" stroke-width="1.6" stroke-linejoin="miter"/>
<path d="M615.7,1706.5 L605.8,1726.2 L625.6,1726.2 Z" fill="#fff" stroke="#b01c18" stroke-width="1.6" stroke-linejoin="miter"/>
<path d="M603.6,1726.3 L593.7,1746.0 L613.5,1746.0 Z" fill="#fff" stroke="#b01c18" stroke-width="1.6" stroke-linejoin="miter"/>
<path d="M598.0,1711.7 L588.1,1731.4 L607.9,1731.4 Z" fill="#fff" stroke="#b01c18" stroke-width="1.6" stroke-linejoin="miter"/>
<path d="M615.0,1732.2 L605.1,1751.9 L624.9,1751.9 Z" fill="#fff" stroke="#b01c18" stroke-width="1.6" stroke-linejoin="miter"/>
<path d="M632.0,1744.5 L622.1,1764.2 L641.9,1764.2 Z" fill="#fff" stroke="#b01c18" stroke-width="1.6" stroke-linejoin="miter"/>
<text x="0.00" y="0.00" font-size="29.5" fill="#000" stroke="#000" letter-spacing="-0.606" transform="translate(70.80,23.40) scale(1,1.050)">50</text>
<text x="0.00" y="0.00" font-size="29.5" fill="#000" stroke="#000" letter-spacing="-1.206" transform="translate(71.40,149.40) scale(1,1.050)">40</text>
<text x="0.00" y="0.00" font-size="29.5" fill="#000" stroke="#000" letter-spacing="-1.306" transform="translate(70.70,278.20) scale(1,1.050)">30</text>
<text x="0.00" y="0.00" font-size="29.5" fill="#000" stroke="#000" letter-spacing="-1.306" transform="translate(70.70,408.00) scale(1,1.050)">20</text>
<text x="0.00" y="0.00" font-size="29.5" fill="#000" stroke="#000" letter-spacing="-0.306" transform="translate(69.70,537.20) scale(1,1.050)">10</text>
<text x="0.00" y="0.00" font-size="29.5" fill="#000" stroke="#000" letter-spacing="0.000" transform="translate(82.20,666.00) scale(1,1.050)">0</text>
<text x="0.00" y="0.00" font-size="29.5" fill="#000" stroke="#000" letter-spacing="0.000" transform="translate(100.80,692.70) scale(1,1.050)">0</text>
<text x="0.00" y="0.00" font-size="29.5" fill="#000" stroke="#000" letter-spacing="-1.306" transform="translate(383.20,692.90) scale(1,1.050)">10</text>
<text x="0.00" y="0.00" font-size="29.5" fill="#000" stroke="#000" letter-spacing="0.894" transform="translate(671.00,692.60) scale(1,1.050)">20</text>
<text x="0.00" y="0.00" font-size="29.5" fill="#000" stroke="#000" letter-spacing="-0.606" transform="translate(957.70,692.60) scale(1,1.050)">30</text>
<text x="0.00" y="0.00" font-size="31.5" fill="#000" stroke="#000" letter-spacing="0.412" transform="translate(514.90,733.00) scale(1,1.030)">Th/Tb</text>
<text x="0.00" y="0.00" font-size="31" fill="#000" stroke="#000" letter-spacing="0.328" transform="translate(46.4,375.6) rotate(-90)">Th/Ta</text>
<text x="0.00" y="0.00" font-size="31.5" fill="#000" stroke="#000" letter-spacing="2.123" transform="translate(162.00,167.30) scale(1,1.035)">Yanbian mafic</text>
<text x="0.00" y="0.00" font-size="31.5" fill="#000" stroke="#000" letter-spacing="2.337" transform="translate(161.40,204.00) scale(1,1.035)">intrusions</text>
<text x="0.00" y="0.00" font-size="31.5" fill="#000" stroke="#000" letter-spacing="2.370" transform="translate(200.60,407.30) scale(1,1.035)">Huangling</text>
<text x="0.00" y="0.00" font-size="31.5" fill="#000" stroke="#000" letter-spacing="1.950" transform="translate(200.40,443.40) scale(1,1.035)">mafic dikes</text>
<text x="0.00" y="0.00" font-size="31.5" fill="#000" stroke="#000" letter-spacing="2.330" transform="translate(478.60,583.00) scale(1,1.035)">Fanjingshan</text>
<text x="0.00" y="0.00" font-size="31.5" fill="#000" stroke="#000" letter-spacing="1.938" transform="translate(478.50,620.00) scale(1,1.035)">mafic rocks</text>
<text x="893.30" y="612.30" font-size="44" fill="#000" stroke="#000" letter-spacing="2.438">(a)</text>
<text x="0.00" y="0.00" font-size="32" fill="#000" stroke="#000" letter-spacing="0.953" transform="translate(47.00,760.50) scale(1,1.045)">880</text>
<text x="0.00" y="0.00" font-size="32" fill="#000" stroke="#000" letter-spacing="0.953" transform="translate(47.00,876.00) scale(1,1.045)">840</text>
<text x="0.00" y="0.00" font-size="32" fill="#000" stroke="#000" letter-spacing="1.103" transform="translate(47.00,994.50) scale(1,1.045)">800</text>
<text x="0.00" y="0.00" font-size="32" fill="#000" stroke="#000" letter-spacing="1.103" transform="translate(47.00,1113.00) scale(1,1.045)">760</text>
<text x="0.00" y="0.00" font-size="32" fill="#000" stroke="#000" letter-spacing="1.103" transform="translate(47.00,1231.20) scale(1,1.045)">720</text>
<text x="0.00" y="0.00" font-size="32" fill="#000" stroke="#000" letter-spacing="1.103" transform="translate(47.00,1347.50) scale(1,1.045)">680</text>
<text x="0.00" y="0.00" font-size="32" fill="#000" stroke="#000" letter-spacing="1.103" transform="translate(47.00,1459.00) scale(1,1.045)">640</text>
<text x="0.00" y="0.00" font-size="32" fill="#000" stroke="#000" letter-spacing="1.356" transform="translate(88.00,1489.00) scale(1,1.040)">0.8</text>
<text x="0.00" y="0.00" font-size="32" fill="#000" stroke="#000" letter-spacing="1.656" transform="translate(209.60,1489.00) scale(1,1.040)">0.9</text>
<text x="0.00" y="0.00" font-size="32" fill="#000" stroke="#000" letter-spacing="-0.044" transform="translate(338.80,1489.00) scale(1,1.040)">1.0</text>
<text x="0.00" y="0.00" font-size="32" fill="#000" stroke="#000" letter-spacing="-0.144" transform="translate(457.60,1489.00) scale(1,1.040)">1.1</text>
<text x="0.00" y="0.00" font-size="32" fill="#000" stroke="#000" letter-spacing="1.656" transform="translate(584.00,1489.00) scale(1,1.040)">1.2</text>
<text x="0.00" y="0.00" font-size="32" fill="#000" stroke="#000" letter-spacing="0.606" transform="translate(708.50,1489.00) scale(1,1.040)">1.3</text>
<text x="0.00" y="0.00" font-size="32" fill="#000" stroke="#000" letter-spacing="0.456" transform="translate(832.40,1489.00) scale(1,1.040)">1.4</text>
<text x="0.00" y="0.00" font-size="32" fill="#000" stroke="#000" letter-spacing="0.906" transform="translate(953.00,1489.00) scale(1,1.040)">1.5</text>
<text x="0.00" y="0.00" font-size="32.5" fill="#000" stroke="#000" letter-spacing="1.688" transform="translate(476.80,1533.50) scale(1,1.040)">A/CNK</text>
<text x="0.00" y="0.00" font-size="32.5" fill="#000" stroke="#000" letter-spacing="1.833" transform="translate(26.5,1241.7) rotate(-90)">Temperature</text>
<text x="-2.00" y="0.00" font-size="33" fill="#000" stroke="#000" letter-spacing="0.000" transform="translate(26.5,1030) rotate(-90)">(</text>
<text x="0.00" y="0.00" font-size="33" fill="#000" stroke="#000" letter-spacing="0.000" transform="translate(26.5,985.8) rotate(-90)">)</text>
<text x="881.50" y="811.75" font-size="47" fill="#000" stroke="#000" letter-spacing="3.105">(b)</text>
<text x="-2.00" y="0.00" font-size="32.5" fill="#999" stroke="#999" letter-spacing="1.734" transform="translate(642.6,786.2) rotate(36)">Decreasing pressure</text>
<text x="154.60" y="886.00" font-size="24" fill="#000" stroke="#000" letter-spacing="1.502">ca. 814 Ma Well W117</text>
<text x="154.60" y="915.40" font-size="24" fill="#000" stroke="#000" letter-spacing="2.018">quartz monzonites,</text>
<text x="155.30" y="943.80" font-size="24" letter-spacing="2.156"><tspan font-size="24" fill="#b01c18" stroke="#b01c18">(Ho/Yb)</tspan><tspan font-size="17" fill="#b01c18" stroke="#b01c18">N</tspan><tspan font-size="24" fill="#b01c18" stroke="#b01c18">=0.80-1.12</tspan></text>
<text x="698.80" y="1217.70" font-size="24" fill="#000" stroke="#000" letter-spacing="1.570">ca. 830 Ma northern</text>
<text x="698.80" y="1245.60" font-size="24" fill="#000" stroke="#000" letter-spacing="1.838">Guangxi granitoids,</text>
<text x="699.50" y="1273.60" font-size="24" letter-spacing="2.144"><tspan font-size="24" fill="#b01c18" stroke="#b01c18">(Ho/Yb)</tspan><tspan font-size="17" fill="#b01c18" stroke="#b01c18">N</tspan><tspan font-size="24" fill="#b01c18" stroke="#b01c18">=0.79-1.33</tspan></text>
<text x="626.50" y="1347.50" font-size="24" fill="#000" stroke="#000" letter-spacing="1.728">ca. 820-810 Ma northern</text>
<text x="626.50" y="1377.50" font-size="24" fill="#000" stroke="#000" letter-spacing="1.910">Guangxi granitoids,</text>
<text x="627.20" y="1404.00" font-size="24" letter-spacing="2.162"><tspan font-size="24" fill="#b01c18" stroke="#b01c18">(Ho/Yb)</tspan><tspan font-size="17" fill="#b01c18" stroke="#b01c18">N</tspan><tspan font-size="24" fill="#b01c18" stroke="#b01c18">=0.89-1.14</tspan></text>
<text x="0.00" y="0.00" font-size="32" fill="#000" stroke="#000" letter-spacing="1.634" transform="translate(483.00,1584.40) scale(1,1.020)">50% Qz</text>
<text x="0.00" y="0.00" font-size="32" fill="#000" stroke="#000" letter-spacing="1.204" transform="translate(207.90,1961.20) scale(1,1.020)">50% Ab</text>
<text x="0.00" y="0.00" font-size="32" fill="#000" stroke="#000" letter-spacing="1.474" transform="translate(771.90,1956.90) scale(1,1.020)">50% Or</text>
<text x="0.00" y="0.00" font-size="32" fill="#000" stroke="#000" letter-spacing="2.300" transform="translate(463.00,2093.60) scale(1,1.020)">Mesonorm</text>
<text x="833.20" y="2229.60" font-size="44" fill="#000" stroke="#000" letter-spacing="2.674">(c)</text>
<text x="515.80" y="1714.00" font-size="25" fill="#000" stroke="#000" letter-spacing="1.225">0.5</text>
<text x="457.60" y="1773.00" font-size="24" fill="#000" stroke="#000" letter-spacing="0.000">1</text>
<text x="396.50" y="1794.20" font-size="24" fill="#000" stroke="#000" letter-spacing="0.000">2</text>
<text x="358.50" y="1827.20" font-size="24" fill="#000" stroke="#000" letter-spacing="0.000">3</text>
<text x="345.00" y="1894.00" font-size="24" fill="#000" stroke="#000" letter-spacing="2.364">4kbar</text>
</svg></body></html>
